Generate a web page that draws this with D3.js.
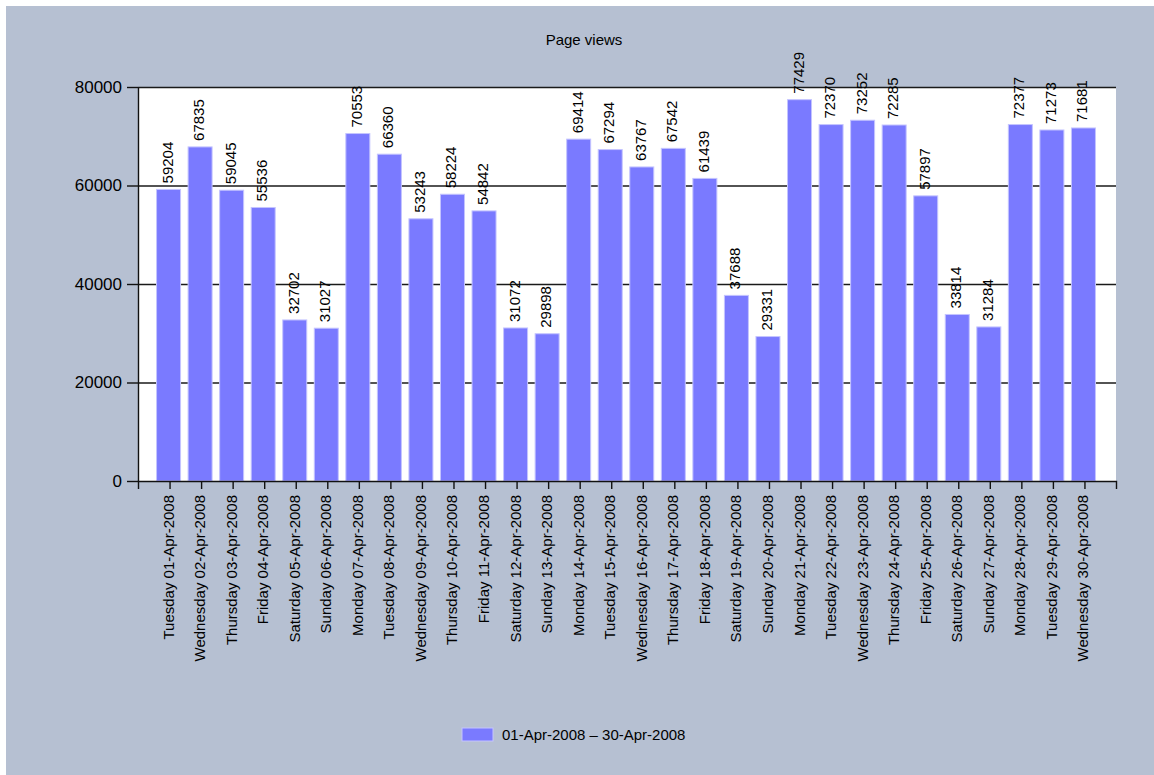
<!DOCTYPE html>
<html>
<head>
<meta charset="utf-8">
<script src="https://cdn.jsdelivr.net/npm/d3@7"></script>
<style>
  html, body { margin: 0; padding: 0; background: #ffffff; }
  svg { display: block; }
  text { font-family: "Liberation Sans", Arial, sans-serif; fill: #000; }
</style>
</head>
<body>
<script>
const categories = [
  "Tuesday 01-Apr-2008", "Wednesday 02-Apr-2008", "Thursday 03-Apr-2008", "Friday 04-Apr-2008",
  "Saturday 05-Apr-2008", "Sunday 06-Apr-2008", "Monday 07-Apr-2008", "Tuesday 08-Apr-2008",
  "Wednesday 09-Apr-2008", "Thursday 10-Apr-2008", "Friday 11-Apr-2008", "Saturday 12-Apr-2008",
  "Sunday 13-Apr-2008", "Monday 14-Apr-2008", "Tuesday 15-Apr-2008", "Wednesday 16-Apr-2008",
  "Thursday 17-Apr-2008", "Friday 18-Apr-2008", "Saturday 19-Apr-2008", "Sunday 20-Apr-2008",
  "Monday 21-Apr-2008", "Tuesday 22-Apr-2008", "Wednesday 23-Apr-2008", "Thursday 24-Apr-2008",
  "Friday 25-Apr-2008", "Saturday 26-Apr-2008", "Sunday 27-Apr-2008", "Monday 28-Apr-2008",
  "Tuesday 29-Apr-2008", "Wednesday 30-Apr-2008"
];
const pageViews = [
  59204, 67835, 59045, 55536, 32702, 31027, 70553, 66360, 53243, 58224,
  54842, 31072, 29898, 69414, 67294, 63767, 67542, 61439, 37688, 29331,
  77429, 72370, 73252, 72285, 57897, 33814, 31284, 72377, 71273, 71681
];
const yTickValues = [0, 20000, 40000, 60000, 80000];
const chartTitle = "Page views";
const seriesName = "01-Apr-2008 \u2013 30-Apr-2008";

const W = 1154, H = 775;
const plot = { left: 138, right: 1116, top: 87, bottom: 481 };
const bg = "#b6c0d2";
const barColor = "#7a7aff";
const barStroke = "#c4c4ff";

const svg = d3.select("body").append("svg").attr("width", W).attr("height", H);

svg.append("rect").attr("x", 0).attr("y", 0).attr("width", W).attr("height", H).attr("fill", "#ffffff");
svg.append("rect").attr("x", 6).attr("y", 6).attr("width", W - 6).attr("height", H - 6).attr("fill", bg);

// plot background
svg.append("rect")
  .attr("x", plot.left).attr("y", plot.top)
  .attr("width", plot.right - plot.left).attr("height", plot.bottom - plot.top)
  .attr("fill", "#ffffff");

const x = d3.scalePoint().domain(categories).range([plot.left, plot.right]).padding(1);
const y = d3.scaleLinear().domain([0, 80000]).range([plot.bottom, plot.top]);

// grid lines
svg.append("g").selectAll("line")
  .data(yTickValues.filter(v => v > 0))
  .join("line")
  .attr("x1", plot.left).attr("x2", plot.right)
  .attr("y1", d => y(d) + 0.5).attr("y2", d => y(d) + 0.5)
  .attr("stroke", "#1a1a1a").attr("stroke-width", 1.4);

// bars
const barW = 24;
svg.append("g").selectAll("rect")
  .data(pageViews)
  .join("rect")
  .attr("x", (d, i) => x(categories[i]) - barW / 2 - 1)
  .attr("y", d => y(d))
  .attr("width", barW)
  .attr("height", d => plot.bottom - y(d))
  .attr("fill", barColor)
  .attr("stroke", barStroke)
  .attr("stroke-width", 1);

// axes
const yAxis = d3.axisLeft(y).tickValues(yTickValues).tickSizeInner(11).tickSizeOuter(0).tickPadding(5)
  .tickFormat(d3.format("d"));
const gy = svg.append("g").attr("transform", `translate(${plot.left},0)`).call(yAxis);
gy.selectAll("text").style("font-size", "17px").style("font-family", "'Liberation Sans', Arial, sans-serif");
gy.selectAll("line, path").attr("stroke", "#111").attr("stroke-width", 1.4);

const xAxis = d3.axisBottom(x).tickSizeInner(8).tickSizeOuter(8).tickFormat("");
const gx = svg.append("g").attr("transform", `translate(0,${plot.bottom})`).call(xAxis);
gx.selectAll("line, path").attr("stroke", "#111").attr("stroke-width", 1.4);

// x labels (rotated)
svg.append("g").selectAll("text")
  .data(categories)
  .join("text")
  .attr("transform", d => `translate(${x(d) + 4},495) rotate(-90)`)
  .attr("text-anchor", "end")
  .style("font-size", "15px")
  .text(d => d);

// value labels
svg.append("g").selectAll("text")
  .data(pageViews)
  .join("text")
  .attr("transform", (d, i) => `translate(${x(categories[i]) + 3},${y(d) - 6}) rotate(-90)`)
  .attr("text-anchor", "start")
  .style("font-size", "15px")
  .text(d => d);

// title
svg.append("text")
  .attr("x", 584).attr("y", 45)
  .attr("text-anchor", "middle")
  .style("font-size", "15px")
  .text(chartTitle);

// legend
svg.append("rect")
  .attr("x", 462).attr("y", 728).attr("width", 31).attr("height", 13)
  .attr("fill", barColor).attr("stroke", barStroke).attr("stroke-width", 1);
svg.append("text")
  .attr("x", 502).attr("y", 740)
  .style("font-size", "15px")
  .text(seriesName);
</script>
</body>
</html>
